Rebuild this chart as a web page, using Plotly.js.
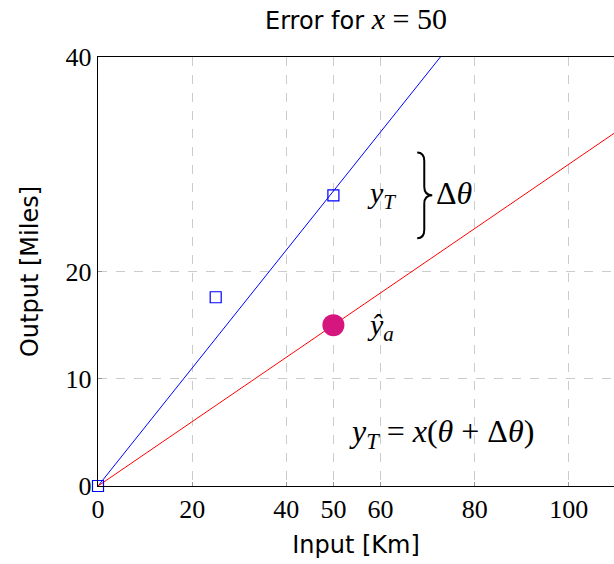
<!DOCTYPE html>
<html>
<head>
<meta charset="utf-8">
<script src="https://cdn.plot.ly/plotly-3.0.1.min.js"></script>
<style>
  html, body { margin: 0; padding: 0; background: #fff; }
  #chart { width: 614px; height: 564px; }
</style>
</head>
<body>
<div id="chart"></div>
<script>
// Sample measurements (input km -> output miles)
const sampleX = [0, 25, 50];
const sampleY = [0, 17.6, 27.1];

// True mapping y_T = x(θ + Δθ)
const trueLineX = [0, 110];
const trueLineY = [0, 60.5];

// Approximate mapping ŷ = xθ
const approxLineX = [0, 110];
const approxLineY = [0, 33];

// Approximation evaluated at x = 50
const approxPointX = [50];
const approxPointY = [15];

// Axis ticks
const xTicks = [0, 20, 40, 50, 60, 80, 100];
const yTicks = [0, 10, 20, 40];

// Extent of the Δθ brace, in data units
const braceX = [67.8, 69.3, 71.0];
const braceY = [31.1, 27.1, 23.1];

const serif = '"Liberation Serif", "DejaVu Serif", serif';
const sans = '"DejaVu Sans", sans-serif';

function bracePath(xs, ys) {
  const [x0, x1, x2] = xs;
  const [yt, ym, yb] = ys;
  const h = (yt - yb) * 0.1;
  return `M ${x0},${yt} Q ${x1},${yt} ${x1},${yt - h} ` +
         `L ${x1},${ym + h} Q ${x1},${ym} ${x2},${ym} ` +
         `Q ${x1},${ym} ${x1},${ym - h} ` +
         `L ${x1},${yb + h} Q ${x1},${yb} ${x0},${yb}`;
}

const traces = [
  {
    x: trueLineX, y: trueLineY, mode: 'lines', type: 'scatter',
    line: { color: '#0000ff', width: 1 }, hoverinfo: 'skip'
  },
  {
    x: approxLineX, y: approxLineY, mode: 'lines', type: 'scatter',
    line: { color: '#ff0000', width: 1 }, hoverinfo: 'skip'
  },
  {
    x: sampleX, y: sampleY, mode: 'markers', type: 'scatter',
    marker: { symbol: 'square-open', size: 11, color: '#0000ff', line: { width: 1.2 } },
    cliponaxis: false
  },
  {
    x: approxPointX, y: approxPointY, mode: 'markers', type: 'scatter',
    marker: { symbol: 'circle', size: 22, color: '#d6167f' }
  }
];

const mathFont = { family: serif, size: 30, color: '#000' };
const eqFont = { family: serif, size: 32, color: '#000' };

const layout = {
  width: 614, height: 564,
  margin: { l: 98, r: 0, t: 57, b: 78 },
  paper_bgcolor: '#fff', plot_bgcolor: '#fff',
  showlegend: false,
  title: {
    text: 'Error for <span style="font-family:\'Liberation Serif\', serif;font-size:30px"><i>x</i> = 50</span>',
    font: { family: sans, size: 24, color: '#000' },
    xref: 'paper', x: 0.5, xanchor: 'center', y: 0.963, yanchor: 'middle'
  },
  xaxis: {
    range: [0, 109.6], tickvals: xTicks, ticktext: xTicks.map(String),
    showgrid: true, gridcolor: '#cccccc', griddash: 'dash', gridwidth: 1,
    zeroline: false, showline: true, linecolor: '#000', linewidth: 1.2, mirror: true,
    ticks: 'inside', ticklen: 4, tickcolor: '#999',
    tickfont: { family: serif, size: 26, color: '#000' },
    title: { text: 'Input [Km]', font: { family: sans, size: 24, color: '#000' }, standoff: 12 }
  },
  yaxis: {
    range: [0, 40], tickvals: yTicks, ticktext: yTicks.map(String),
    showgrid: true, gridcolor: '#cccccc', griddash: 'dash', gridwidth: 1,
    zeroline: false, showline: true, linecolor: '#000', linewidth: 1.2, mirror: false,
    ticks: 'inside', ticklen: 4, tickcolor: '#999',
    tickfont: { family: serif, size: 26, color: '#000' },
    title: { text: 'Output [Miles]', font: { family: sans, size: 24, color: '#000' }, standoff: 20 }
  },
  shapes: [
    {
      type: 'path', xref: 'x', yref: 'y', path: bracePath(braceX, braceY),
      line: { color: '#000', width: 2 }
    }
  ],
  annotations: [
    {
      x: 60.3, y: 27.1, xref: 'x', yref: 'y', showarrow: false,
      text: '<i>y</i><sub><i>T</i></sub>', font: mathFont
    },
    {
      x: 71.3, y: 27.3, xref: 'x', yref: 'y', showarrow: false, xanchor: 'left',
      text: 'Δ<i>θ</i>', font: eqFont
    },
    {
      x: 60, y: 14.8, xref: 'x', yref: 'y', showarrow: false,
      text: '<i>ŷ</i><sub><i>a</i></sub>', font: mathFont
    },
    {
      x: 72.9, y: 4.9, xref: 'x', yref: 'y', showarrow: false,
      text: '<i>y</i><sub><i>T</i></sub>&nbsp;=&nbsp;<i>x</i>(<i>θ</i>&nbsp;+&nbsp;Δ<i>θ</i>)', font: eqFont
    }
  ]
};

Plotly.newPlot('chart', traces, layout, { displayModeBar: false, staticPlot: true });
</script>
</body>
</html>
